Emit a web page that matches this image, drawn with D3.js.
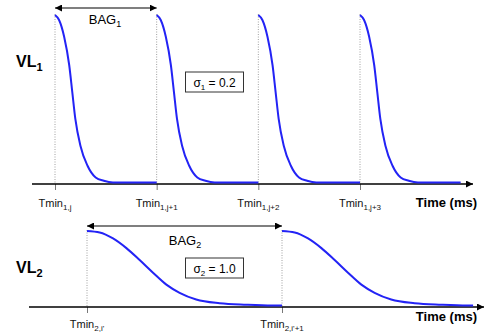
<!DOCTYPE html>
<html>
<head>
<meta charset="utf-8">
<script src="https://cdn.jsdelivr.net/npm/d3@7"></script>
<style>
  body { margin: 0; background: #fff; }
  svg { font-family: "Liberation Sans", Arial, sans-serif; }
</style>
</head>
<body>
<svg width="484" height="333"></svg>
<script>
// pulse start times (ms) and tick labels
const tmin1 = [0, 100, 200, 300];
const tmin1Labels = ['1,j', '1,j+1', '1,j+2', '1,j+3'];
const tmin2 = [0, 200];
const tmin2Labels = ['2,i\'', '2,i\'+1'];
const end1 = 399;
const end2 = 396;

// pulse shape: offset from Tmin (ms), normalised level
const shape1T = [0, 4, 9, 14, 17, 20, 25, 32, 40, 48, 57];
const shape1V = [1, 0.97, 0.87, 0.70, 0.54, 0.38, 0.22, 0.10, 0.03, 0.01, 0];
const shape2T = [0, 13, 26.7, 40.4, 54, 67.7, 81.4, 95, 112, 136, 163.5, 190];
const shape2V = [1, 0.98, 0.90, 0.77, 0.61, 0.44, 0.28, 0.17, 0.08, 0.03, 0.01, 0];

const sigma1 = '0.2';
const sigma2 = '1.0';

const svg = d3.select('svg');
const blue = '#2323f5';

svg.append('defs').append('marker')
    .attr('id', 'arr')
    .attr('viewBox', '0 0 10 10')
    .attr('refX', 10).attr('refY', 5)
    .attr('markerWidth', 7).attr('markerHeight', 7)
    .attr('markerUnits', 'userSpaceOnUse')
    .attr('orient', 'auto-start-reverse')
    .append('path').attr('d', 'M0,0 L10,5 L0,10 z').attr('fill', '#000');

const drawPanel = (opt) => {
    const x = d3.scaleLinear().domain(opt.domain).range(opt.range);
    const y = d3.scaleLinear().domain([0, 1]).range([opt.base - 1.5, opt.top]);
    const g = svg.append('g');

    // dotted guides
    g.selectAll('.guide').data(opt.tmin).enter().append('line')
        .attr('x1', d => x(d)).attr('x2', d => x(d))
        .attr('y1', opt.top - 1).attr('y2', opt.base)
        .attr('stroke', '#888').attr('stroke-width', 0.8)
        .attr('stroke-dasharray', '1,1.5');

    // ticks
    const axis = d3.axisBottom(x).tickValues(opt.tmin).tickSize(6).tickFormat('');
    const ax = g.append('g').attr('transform', 'translate(0,' + opt.base + ')').call(axis);
    ax.select('.domain').remove();
    ax.selectAll('.tick line').attr('stroke', '#555').attr('stroke-width', 0.8);

    // axis line with arrow
    g.append('line')
        .attr('x1', opt.axisFrom).attr('x2', opt.axisTo)
        .attr('y1', opt.base).attr('y2', opt.base)
        .attr('stroke', '#000').attr('stroke-width', 1.3)
        .attr('marker-end', 'url(#arr)');

    // pulses
    const line = d3.line().x(d => x(d[0])).y(d => y(d[1])).curve(d3.curveMonotoneX);
    opt.tmin.forEach((t, i) => {
        const stop = i < opt.tmin.length - 1 ? opt.tmin[i + 1] : opt.end;
        const pts = opt.shapeT.map((s, k) => [t + s, opt.shapeV[k]]);
        pts.push([stop, 0]);
        g.append('path').attr('d', line(pts))
            .attr('fill', 'none').attr('stroke', blue).attr('stroke-width', 2);
    });

    // tick labels
    const lab = g.selectAll('.lab').data(opt.tmin).enter().append('text')
        .attr('x', d => x(d)).attr('y', opt.base + opt.labDy)
        .attr('text-anchor', 'middle').attr('font-size', 11).attr('fill', '#111');
    lab.append('tspan').text('Tmin');
    lab.append('tspan').attr('font-size', 8).attr('dy', 2.5).text((d, i) => opt.labels[i]);

    g.append('text').attr('x', 477).attr('y', opt.base + opt.timeDy)
        .attr('text-anchor', 'end').attr('font-size', 13).attr('font-weight', 'bold')
        .text('Time (ms)');

    // VL label
    const vl = g.append('text').attr('x', 16).attr('y', opt.vlY)
        .attr('font-size', 16).attr('font-weight', 'bold');
    vl.append('tspan').text('VL');
    vl.append('tspan').attr('font-size', 11).attr('dy', 4).text(opt.id);

    // BAG arrow
    g.append('line')
        .attr('x1', x(opt.tmin[0])).attr('x2', x(opt.tmin[1]))
        .attr('y1', opt.bagY).attr('y2', opt.bagY)
        .attr('stroke', '#000').attr('stroke-width', 1.2)
        .attr('marker-start', 'url(#arr)').attr('marker-end', 'url(#arr)');
    const bag = g.append('text').attr('x', opt.bagX).attr('y', opt.bagLabelY)
        .attr('text-anchor', 'middle').attr('font-size', 13);
    bag.append('tspan').text('BAG');
    bag.append('tspan').attr('font-size', 9).attr('dy', 3).text(opt.id);

    // sigma box
    g.append('rect').attr('x', 185.5).attr('y', opt.boxY).attr('width', 58).attr('height', 20)
        .attr('fill', '#fff').attr('stroke', '#333').attr('stroke-width', 1);
    const s = g.append('text').attr('x', 214.5).attr('y', opt.boxY + 15)
        .attr('text-anchor', 'middle').attr('font-size', 12);
    s.append('tspan').text('σ');
    s.append('tspan').attr('font-size', 8).attr('dy', 3).text(opt.id);
    s.append('tspan').attr('dy', -3).text(' = ' + opt.sigma);
};

drawPanel({
    id: '1', domain: [0, 300], range: [55, 360], tmin: tmin1, labels: tmin1Labels,
    end: end1, shapeT: shape1T, shapeV: shape1V, base: 184, top: 15, labDy: 23,
    axisFrom: 32, axisTo: 473, timeDy: 23, vlY: 67, bagY: 8, bagX: 105, bagLabelY: 24,
    boxY: 72, sigma: sigma1
});

drawPanel({
    id: '2', domain: [0, 200], range: [87, 282], tmin: tmin2, labels: tmin2Labels,
    end: end2, shapeT: shape2T, shapeV: shape2V, base: 307, top: 231, labDy: 21,
    axisFrom: 29, axisTo: 484, timeDy: 14, vlY: 273, bagY: 226, bagX: 185, bagLabelY: 245,
    boxY: 258, sigma: sigma2
});
</script>
</body>
</html>
